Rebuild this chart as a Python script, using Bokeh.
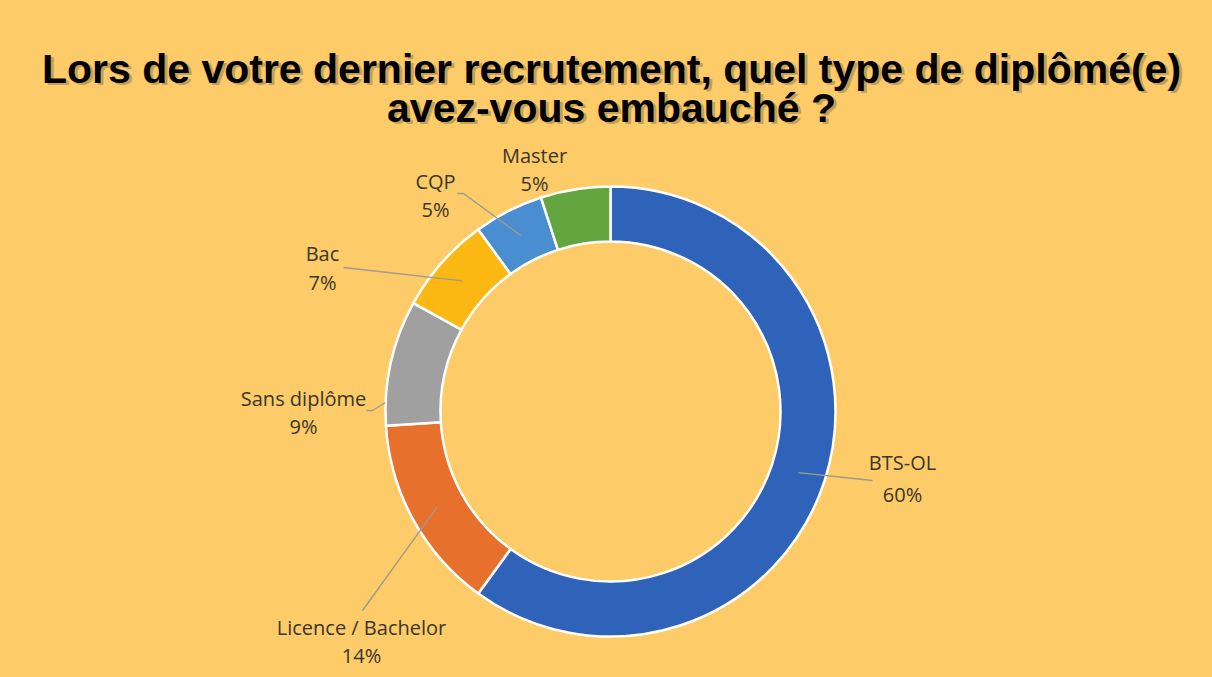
import numpy as np
from bokeh.plotting import figure
from bokeh.models import Range1d, ColumnDataSource
from bokeh.core.properties import value
from bokeh.embed import file_html
from bokeh.resources import INLINE

# ---- data ----
categories = ["BTS-OL", "Licence / Bachelor", "Sans diplôme", "Bac", "CQP", "Master"]
percent = [60, 14, 9, 7, 5, 5]
pct_labels = ["60%", "14%", "9%", "7%", "5%", "5%"]
title_lines = ["Lors de votre dernier recrutement, quel type de diplômé(e)",
               "avez-vous embauché ?"]

# ---- style / layout ----
colors = ["#2F63B9", "#E8702D", "#A0A0A0", "#FBB812", "#4A8ED2", "#63A640"]
BG = "#FDCB67"
W, H = 1204, 669
def X(x): return x
def Y(y): return H - y

cx, cy = X(610), Y(411)
r_in, r_out = 170, 225
r_mid = (r_in + r_out) / 2

# label anchor (image px) for name line; pct line below
label_pos = [(902, 462), (361, 627), (303, 398), (322, 253), (435, 181), (534, 155)]
pct_gap = [32, 28, 28, 29, 28, 28]
# leader line start (label side), None = no leader
leader_start = [(872, 480), (362, 610), (372, 410), (343, 267), (463, 193), None]

p = figure(width=W, height=H, x_range=Range1d(0, W), y_range=Range1d(0, H),
           output_backend="svg", toolbar_location=None, min_border=0,
           background_fill_color=BG, border_fill_color=BG)
p.axis.visible = False
p.grid.visible = False
p.outline_line_color = None

frac = np.array(percent, dtype=float) / sum(percent)
cum = np.cumsum(frac)
start = np.pi / 2 - 2 * np.pi * (cum - frac)
end = np.pi / 2 - 2 * np.pi * cum

src = ColumnDataSource(dict(start=start, end=end, color=colors, cat=categories))
p.annular_wedge(x=cx, y=cy, inner_radius=r_in, outer_radius=r_out,
                start_angle="start", end_angle="end", direction="clock",
                fill_color="color", line_color="white", line_width=2.5, source=src)

# leaders
xs, ys = [], []
for i, ls in enumerate(leader_start):
    if ls is None:
        continue
    lx, ly = X(ls[0]), Y(ls[1])
    if categories[i] == "Sans diplôme":
        ang = np.arctan2(ly - cy, lx - cx)
        ex, ey = cx + r_out * np.cos(ang), cy + r_out * np.sin(ang) + 8
    else:
        mid = (start[i] + end[i]) / 2
        ex, ey = cx + r_mid * np.cos(mid), cy + r_mid * np.sin(mid)
    if categories[i] in ("CQP", "Sans diplôme"):
        xs.append([lx - 6, lx, ex]); ys.append([ly, ly, ey])
    else:
        xs.append([lx, ex]); ys.append([ly, ey])
p.multi_line(xs=xs, ys=ys, line_color="#9C9A92", line_width=1.3)

# labels
tx, ty, tt = [], [], []
for i in range(len(categories)):
    lx, ly = label_pos[i]
    tx += [X(lx), X(lx)]
    ty += [Y(ly), Y(ly + pct_gap[i])]
    tt += [categories[i], pct_labels[i]]
p.text(x=tx, y=ty, text=tt, text_font=value("Open Sans"), text_font_size="20px",
       text_color="#3B362C", text_align="center", text_baseline="middle")

# title with shadow
tyc = [Y(68), Y(107)]
p.text(x=[X(612) + 2, X(612) + 2], y=[tyc[0] - 2.5, tyc[1] - 2.5], text=title_lines,
       text_font=value("Liberation Sans"), text_font_style="bold", text_font_size="41px",
       text_color="#6B5A3A", text_alpha=0.4, text_align="center", text_baseline="middle")
p.text(x=[X(611), X(611)], y=tyc, text=title_lines,
       text_font=value("Liberation Sans"), text_font_style="bold", text_font_size="41px",
       text_color="#000000", text_align="center", text_baseline="middle")

html = file_html(p, INLINE)
html = html.replace("<head>", "<head><style>html,body{background:%s;}</style>" % BG, 1)
open("out.html", "w").write(html)
